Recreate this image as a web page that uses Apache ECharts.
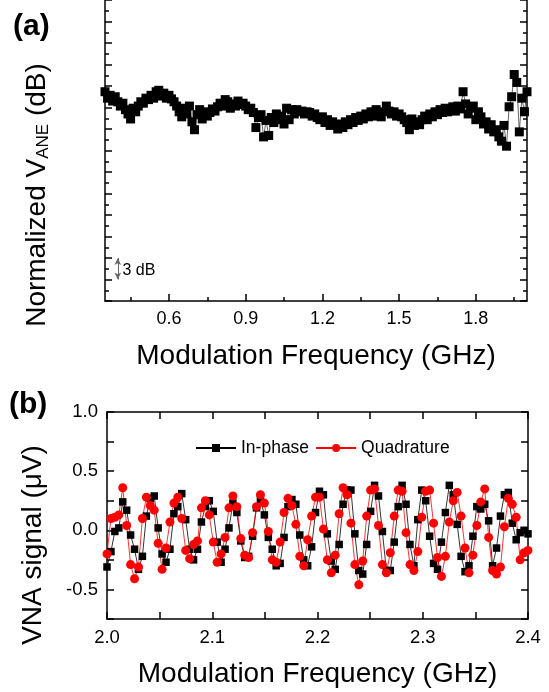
<!DOCTYPE html>
<html>
<head>
<meta charset="utf-8">
<script src="https://cdn.jsdelivr.net/npm/echarts@6/dist/echarts.min.js"></script>
<style>
  html, body { margin: 0; padding: 0; background: #fff; }
  #main { width: 549px; height: 692px; }
</style>
</head>
<body>
<div id="main"></div>
<script>
// (a) normalized V_ANE, sweep 0.35 - 2.0 GHz in 0.01 GHz steps
var freqAStart = 0.35, freqAStep = 0.01;
var vaneDb = [
  29.2, 28.3, 28.7, 27.9, 28.5, 27.8, 27.2, 27.6, 26.7, 26.1,
  25.4, 26.9, 26.4, 27.2, 27.8, 27.6, 28.3, 28.1, 28.7, 28.3,
  29.2, 29.4, 28.6, 29.0, 28.3, 28.7, 28.2, 27.8, 27.2, 26.4,
  25.7, 26.9, 26.1, 27.2, 25.0, 23.9, 26.0, 26.7, 25.4, 26.4,
  25.8, 26.3, 26.8, 26.5, 27.1, 27.6, 27.2, 28.1, 27.8, 26.9,
  27.5, 27.2, 27.9, 27.4, 27.6, 27.2, 26.7, 26.9, 26.3, 24.2,
  25.6, 26.0, 22.9, 25.2, 23.1, 25.6, 24.9, 26.1, 25.3, 25.8,
  24.7, 26.9, 25.3, 26.7, 26.1, 26.7, 26.4, 26.5, 26.1, 26.4,
  26.3, 25.8, 26.1, 25.6, 25.3, 25.7, 24.9, 25.3, 24.5, 25.0,
  24.6, 24.0, 24.7, 24.2, 25.0, 24.6, 25.3, 24.9, 25.6, 25.2,
  25.8, 25.4, 26.1, 25.7, 26.4, 25.8, 26.7, 26.1, 25.7, 26.4,
  27.2, 26.5, 26.1, 26.4, 25.8, 26.1, 25.7, 25.3, 24.9, 23.9,
  25.4, 24.5, 25.0, 24.6, 25.3, 25.8, 25.3, 26.1, 25.7, 26.4,
  26.0, 26.7, 26.3, 26.9, 26.4, 26.8, 27.1, 26.5, 27.2, 26.8,
  29.2, 27.5, 26.1, 26.9, 27.2, 25.3, 26.4, 25.7, 24.7, 25.0,
  24.0, 24.6, 23.6, 23.9, 22.9, 22.3, 24.5, 21.6, 27.1, 28.5,
  31.6, 30.5, 23.6, 28.3, 26.4, 29.2
];
var freqAMajor = [0.6, 0.9, 1.2, 1.5, 1.8];
var freqAMinor = [0.45, 0.75, 1.05, 1.35, 1.65, 1.95];

// (b) VNA signal, 2.0 - 2.4 GHz
var freqBStart = 2.0, freqBEnd = 2.4;
var inPhase = [
  -0.31, -0.18, -0.01, 0.02, 0.24, 0.17, -0.04, -0.16, -0.33, -0.22,
  0.12, 0.27, 0.29, 0.02, -0.20, -0.27, -0.16, 0.14, 0.20, 0.31,
  0.09, -0.16, -0.25, -0.16, 0.07, 0.20, 0.25, 0.16, -0.10, -0.27,
  -0.16, 0.02, 0.23, 0.15, -0.09, -0.23, -0.22, -0.05, 0.19, 0.26,
  0.13, -0.06, -0.16, -0.30, -0.28, -0.06, 0.20, 0.26, 0.22, -0.04,
  -0.25, -0.30,
  -0.14, 0.15, 0.33, 0.30, -0.03, -0.26, -0.33, -0.12, 0.22, 0.34,
  0.34, -0.03, -0.34, -0.37, -0.12, 0.16, 0.38, 0.29, -0.01, -0.34,
  -0.34, -0.10, 0.20, 0.38, 0.22, -0.12, -0.30, 0.09, 0.34, 0.25,
  -0.05, -0.28, -0.33, -0.10, 0.15, 0.38, 0.30, 0.05, -0.22, -0.35,
  -0.30, -0.05, 0.20, 0.18, 0.22, 0.08, -0.30, -0.15, 0.12, 0.30,
  0.32, 0.06, -0.08, -0.02, 0.00, -0.03
];
var quadrature = [
  -0.20, 0.10, 0.11, 0.13, 0.36, 0.04, -0.29, -0.41, -0.31, 0.10,
  0.28, 0.21, 0.17, -0.11, -0.33, -0.15, 0.07, 0.23, 0.28, 0.10,
  -0.17, -0.24, -0.12, -0.09, 0.19, 0.25, 0.13, -0.10, -0.27, -0.20,
  -0.06, 0.19, 0.29, 0.20, -0.07, -0.21, -0.23, -0.02, 0.20, 0.30,
  0.23, -0.01, -0.25, -0.27, -0.10, 0.15, 0.27, 0.21, 0.05, -0.22,
  -0.30, -0.08, 0.12,
  0.28, 0.28, 0.01, -0.25, -0.36, -0.21, 0.14, 0.36, 0.30, 0.06,
  -0.29, -0.46, -0.26, 0.12, 0.34, 0.35, 0.04, -0.29, -0.36, -0.19,
  0.12, 0.34, 0.33, -0.02, -0.29, -0.34, -0.18, 0.11, 0.33, 0.34,
  0.06, -0.23, -0.39, -0.22, 0.07, 0.25, 0.32, 0.12, -0.15, -0.36,
  -0.21, 0.04, 0.24, 0.35, -0.06, -0.34, -0.37, -0.31, 0.03, 0.27,
  0.22, 0.11, -0.25, -0.19, -0.17
];

var font = 'Liberation Sans, Arial, sans-serif';

var dataA = vaneDb.map(function (v, i) {
  return [+(freqAStart + i * freqAStep).toFixed(3), v];
});
var stepB = (freqBEnd - freqBStart) / (inPhase.length - 1);
var dataIn = inPhase.map(function (v, i) { return [freqBStart + i * stepB, v]; });
var dataQ = quadrature.map(function (v, i) { return [freqBStart + i * stepB, v]; });

function onStep(v, s) {
  return Math.abs(v / s - Math.round(v / s)) < 1e-6;
}

var axisLineStyle = { color: '#000', width: 1.5 };
var tickStyle = { color: '#000', width: 1.5 };

var myChart = echarts.init(document.getElementById('main'));

var option = {
  animation: false,
  backgroundColor: '#fff',
  grid: [
    { left: 105, right: 22, top: -3, bottom: 391 },
    { left: 107, right: 21, top: 412, bottom: 73 }
  ],
  xAxis: [
    {
      gridIndex: 0, type: 'value', min: 0.35, max: 2.0, position: 'bottom',
      name: 'Modulation Frequency (GHz)', nameLocation: 'middle', nameGap: 41,
      nameTextStyle: { fontFamily: font, fontSize: 28, color: '#000' },
      axisLine: { onZero: false, lineStyle: axisLineStyle },
      axisTick: { inside: true, length: 7, customValues: freqAMajor, lineStyle: tickStyle },
      axisLabel: { customValues: freqAMajor, fontFamily: font, fontSize: 18, color: '#000', margin: 9,
        formatter: function (v) { return v.toFixed(1); } },
      splitLine: { show: false }
    },
    {
      gridIndex: 0, type: 'value', min: 0.35, max: 2.0, position: 'bottom',
      axisLine: { show: false, onZero: false },
      axisTick: { inside: true, length: 4, customValues: freqAMinor, lineStyle: tickStyle },
      axisLabel: { show: false },
      splitLine: { show: false }
    },
    {
      gridIndex: 1, type: 'value', min: 2.0, max: 2.4, interval: 0.05, position: 'bottom',
      name: 'Modulation Frequency (GHz)', nameLocation: 'middle', nameGap: 41,
      nameTextStyle: { fontFamily: font, fontSize: 28, color: '#000' },
      axisLine: { onZero: false, lineStyle: axisLineStyle },
      axisTick: { inside: true, length: 7, lineStyle: tickStyle },
      axisLabel: { fontFamily: font, fontSize: 18.5, color: '#000', margin: 9,
        formatter: function (v) { return onStep(v, 0.1) ? v.toFixed(1) : ''; } },
      splitLine: { show: false }
    },
    {
      gridIndex: 1, type: 'value', min: 2.0, max: 2.4, interval: 0.05, position: 'top',
      axisLine: { onZero: false, lineStyle: axisLineStyle },
      axisTick: { inside: true, length: 7, lineStyle: tickStyle },
      axisLabel: { show: false },
      splitLine: { show: false }
    }
  ],
  yAxis: [
    {
      gridIndex: 0, type: 'value', min: 0, max: 42, interval: 3, position: 'left',
      axisLine: { show: true, onZero: false, lineStyle: axisLineStyle },
      axisTick: { inside: true, length: 7, lineStyle: tickStyle },
      minorTick: { show: true, splitNumber: 2, length: 4, lineStyle: tickStyle },
      axisLabel: { show: false },
      splitLine: { show: false }
    },
    {
      gridIndex: 0, type: 'value', min: 0, max: 42, interval: 3, position: 'right',
      axisLine: { show: true, onZero: false, lineStyle: axisLineStyle },
      axisTick: { inside: true, length: 7, lineStyle: tickStyle },
      minorTick: { show: true, splitNumber: 2, length: 4, lineStyle: tickStyle },
      axisLabel: { show: false },
      splitLine: { show: false }
    },
    {
      gridIndex: 1, type: 'value', min: -0.75, max: 1.0, interval: 0.25, position: 'left',
      axisLine: { show: true, onZero: false, lineStyle: axisLineStyle },
      axisTick: { inside: true, length: 7, lineStyle: tickStyle },
      axisLabel: { fontFamily: font, fontSize: 18.5, color: '#000', margin: 9,
        formatter: function (v) { return onStep(v, 0.5) ? v.toFixed(1) : ''; } },
      splitLine: { show: false }
    },
    {
      gridIndex: 1, type: 'value', min: -0.75, max: 1.0, interval: 0.25, position: 'right',
      axisLine: { show: true, onZero: false, lineStyle: axisLineStyle },
      axisTick: { inside: true, length: 7, lineStyle: tickStyle },
      axisLabel: { show: false },
      splitLine: { show: false }
    }
  ],
  legend: {
    data: ['In-phase', 'Quadrature'],
    left: 190, top: 434,
    itemWidth: 40, itemHeight: 10, itemGap: 6,
    textStyle: { fontFamily: font, fontSize: 17.5, color: '#000' }
  },
  graphic: [
    { type: 'text', left: 13, top: 12, style: { text: '(a)', font: 'bold 30px ' + font, fill: '#000' } },
    { type: 'text', left: 9, top: 390, style: { text: '(b)', font: 'bold 30px ' + font, fill: '#000' } },
    {
      type: 'text', x: 37, y: 195, rotation: Math.PI / 2,
      style: {
        text: '{m|Normalized V}{s|ANE}{m| (dB)}',
        align: 'center', verticalAlign: 'middle', fill: '#000',
        rich: {
          m: { fontFamily: font, fontSize: 28, lineHeight: 30, verticalAlign: 'middle' },
          s: { fontFamily: font, fontSize: 17, lineHeight: 30, verticalAlign: 'bottom' }
        }
      }
    },
    {
      type: 'text', x: 33, y: 545, rotation: Math.PI / 2,
      style: { text: 'VNA signal (\u03bcV)', align: 'center', verticalAlign: 'middle',
        font: '28px ' + font, fill: '#000' }
    }
  ],
  series: [
    {
      name: 'V_ANE', type: 'line', xAxisIndex: 0, yAxisIndex: 0,
      data: dataA, symbol: 'rect', symbolSize: 9,
      itemStyle: { color: '#000' }, lineStyle: { color: '#000', width: 0.6 },
      markLine: {
        silent: true, symbol: ['arrow', 'arrow'], symbolSize: [5, 7],
        lineStyle: { color: '#666', width: 1, type: 'solid' },
        label: { show: false },
        data: [[{ coord: [0.40, 3] }, { coord: [0.40, 6] }]]
      },
      markPoint: {
        silent: true, symbol: 'circle', symbolSize: 0,
        label: { show: true, position: 'right', distance: 0, formatter: '3 dB',
          fontFamily: font, fontSize: 16, color: '#000' },
        data: [{ coord: [0.418, 4.2] }]
      }
    },
    {
      name: 'In-phase', type: 'line', xAxisIndex: 2, yAxisIndex: 2,
      data: dataIn, symbol: 'rect', symbolSize: 7.5,
      itemStyle: { color: '#000' }, lineStyle: { color: '#000', width: 0.8 }
    },
    {
      name: 'Quadrature', type: 'line', xAxisIndex: 2, yAxisIndex: 2,
      data: dataQ, symbol: 'circle', symbolSize: 9,
      itemStyle: { color: '#ff0000' }, lineStyle: { color: '#ff0000', width: 0.8 }
    }
  ]
};

myChart.setOption(option);
</script>
</body>
</html>
